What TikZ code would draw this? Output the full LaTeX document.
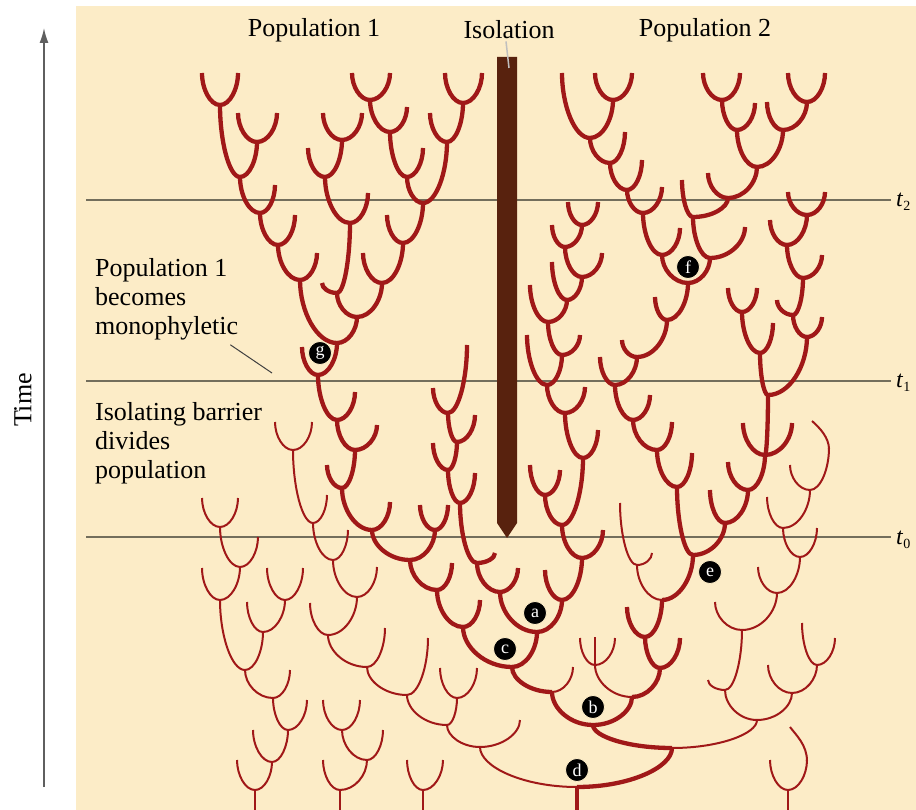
\documentclass[tikz,border=0pt]{standalone}
\usepackage{fontspec}
\setmainfont{Liberation Serif}
\usetikzlibrary{arrows.meta}
\definecolor{bgcream}{RGB}{252,236,199}
\definecolor{treered}{RGB}{160,24,24}
\definecolor{linegray}{RGB}{115,110,92}
\definecolor{barrierbrown}{RGB}{88,34,14}
\definecolor{axisgray}{RGB}{95,95,95}
\newcommand\forkU[7][thk]{%
 \pgfmathsetmacro\fqa{#2+0.55*(#4-#2)}%
 \pgfmathsetmacro\fqb{#5+0.5*(#3-#5)}%
 \pgfmathsetmacro\fqc{#2+0.55*(#6-#2)}%
 \pgfmathsetmacro\fqd{#7+0.5*(#3-#7)}%
 \draw[#1] (#4,#5) .. controls (#4,\fqb) and (\fqa,#3) .. (#2,#3) .. controls (\fqc,#3) and (#6,\fqd) .. (#6,#7);}
\newcommand\armA[5][thk]{%
 \pgfmathsetmacro\fqa{#2+0.55*(#4-#2)}%
 \pgfmathsetmacro\fqb{#5+0.5*(#3-#5)}%
 \draw[#1] (#2,#3) .. controls (\fqa,#3) and (#4,\fqb) .. (#4,#5);}
\begin{document}
\begin{tikzpicture}[x=1pt,y=-1pt,
  thk/.style={draw=treered,line width=4.3pt},
  thn/.style={draw=treered,line width=2pt},
  timeline/.style={draw=linegray,line width=2pt},
  txt/.style={font=\fontsize{26}{29}\selectfont,inner sep=0pt},
  tlab/.style={font=\fontsize{24}{24}\selectfont,inner sep=0pt,anchor=base west},
  lbl/.style={circle,fill=black,draw=bgcream,line width=0.8pt,text=white,inner sep=0pt,minimum size=23pt,font=\fontsize{18}{18}\selectfont}]
\useasboundingbox (0,0) rectangle (916,810);
\begin{scope}
\clip (0,0) rectangle (916,810);
\fill[white] (0,0) rectangle (916,810);
\fill[bgcream] (76,6) rectangle (916,810);
% time axis
\draw[draw=axisgray,line width=1.6pt,-{Latex[length=15pt,width=9pt]}] (44,787) -- (44,28);
\node[txt,rotate=90] (time) at (23,400) {Time};
% time lines
\draw[timeline] (86,200) -- (891,200);
\draw[timeline] (86,381) -- (891,381);
\draw[timeline] (86,537) -- (891,537);
\node[tlab] (t2) at (896,207) {\textit{t}{\fontsize{14}{14}\selectfont\raisebox{-4pt}{2}}};
\node[tlab] (t1) at (896,388) {\textit{t}{\fontsize{14}{14}\selectfont\raisebox{-4pt}{1}}};
\node[tlab] (t0) at (896,544) {\textit{t}{\fontsize{14}{14}\selectfont\raisebox{-4pt}{0}}};
% headings
\node[txt] (pop1) at (314,30) {Population 1};
\node[txt] (iso) at (509,30) {Isolation};
\node[txt] (pop2) at (705,30) {Population 2};
% left labels
\node[txt,anchor=base west] (m1) at (95,277) {Population 1};
\node[txt,anchor=base west] (m2) at (95,306) {becomes};
\node[txt,anchor=base west] (m3) at (95,335) {monophyletic};
\node[txt,anchor=base west] (i1) at (95,420) {Isolating barrier};
\node[txt,anchor=base west] (i2) at (95,449) {divides};
\node[txt,anchor=base west] (i3) at (95,478) {population};
\coordinate (ptr) at (272,373);
\draw[draw=black!75,line width=1pt] (m3.south east) ++(-8,4) -- (ptr);
% ---------- thin (extinct) lineages ----------
\forkU[thn]{293}{450}{275}{422}{312}{422}
\forkU[thn]{313}{523}{293}{450}{327}{495}
\forkU[thn]{333}{560}{313}{523}{348}{530}
\forkU[thn]{357}{597}{333}{560}{377}{567}
\forkU[thn]{328}{635}{310}{603}{357}{597}
\forkU[thn]{367}{667}{328}{635}{385}{628}
\forkU[thn]{407}{695}{367}{667}{428}{638}
\forkU[thn]{457}{698}{440}{668}{477}{668}
\forkU[thn]{447}{725}{407}{695}{457}{698}
\forkU[thn]{480}{747}{447}{725}{520}{720}
\forkU[thn]{220}{527}{202}{498}{238}{498}
\forkU[thn]{240}{567}{220}{527}{258}{537}
\forkU[thn]{220}{600}{202}{568}{240}{567}
\forkU[thn]{285}{600}{267}{568}{303}{568}
\forkU[thn]{263}{632}{247}{602}{285}{600}
\forkU[thn]{245}{670}{220}{600}{263}{632}
\forkU[thn]{273}{698}{245}{670}{290}{670}
\forkU[thn]{288}{730}{273}{698}{307}{700}
\forkU[thn]{272}{762}{253}{730}{288}{730}
\forkU[thn]{255}{790}{237}{760}{272}{762}
\forkU[thn]{342}{730}{323}{700}{360}{700}
\forkU[thn]{367}{760}{342}{730}{383}{730}
\forkU[thn]{340}{790}{323}{760}{367}{760}
\forkU[thn]{423}{790}{407}{760}{443}{760}
\draw[thn] (255,790) -- (255,811);
\draw[thn] (340,790) -- (340,811);
\draw[thn] (423,790) -- (423,811);
% right thin
\forkU[thn]{810}{490}{790}{465}{829}{448}
\draw[thn] (829,449) .. controls (829,438) and (820,428) .. (812,421);
\forkU[thn]{783}{528}{767}{497}{810}{490}
\forkU[thn]{800}{557}{783}{528}{817}{528}
\forkU[thn]{777}{593}{758}{567}{800}{557}
\forkU[thn]{742}{630}{715}{602}{777}{593}
\forkU[thn]{725}{690}{708}{680}{742}{630}
\forkU[thn]{817}{665}{802}{623}{835}{638}
\forkU[thn]{792}{693}{768}{665}{817}{665}
\forkU[thn]{757}{720}{725}{690}{792}{693}
\forkU[thn]{788}{790}{770}{760}{807}{760}
\draw[thn] (807,761) .. controls (807,745) and (796,735) .. (790,727);
\draw[thn] (788,790) -- (788,811);
% middle thin
\forkU[thn]{637}{565}{620}{503}{652}{553}
\forkU[thn]{595}{665}{580}{638}{615}{638}
\draw[thn] (595,665) -- (595,637);
\armA[thn]{552}{692}{573}{667}
\armA[thn]{662}{600}{637}{565}
\armA[thn]{632}{697}{595}{665}
\armA[thn]{672}{748}{757}{720}
\armA[thn]{577}{787}{480}{747}
% ---------- thick lineages ----------
% population 1 top
\forkU{220}{105}{202}{73}{238}{73}
\forkU{257}{142}{238}{113}{277}{113}
\forkU{240}{177}{220}{105}{257}{142}
\forkU{260}{213}{240}{177}{275}{185}
\forkU{278}{245}{260}{213}{295}{215}
\forkU{300}{280}{278}{245}{317}{253}
\forkU{342}{140}{323}{113}{362}{113}
\forkU{325}{177}{308}{148}{342}{140}
\forkU{350}{223}{325}{177}{368}{193}
\forkU{337}{293}{322}{283}{350}{223}
\forkU{370}{100}{352}{73}{390}{73}
\forkU{463}{103}{445}{73}{482}{73}
\forkU{390}{132}{370}{100}{407}{107}
\forkU{447}{142}{430}{113}{463}{103}
\forkU{407}{177}{390}{132}{423}{148}
\forkU{423}{203}{407}{177}{447}{142}
\forkU{403}{243}{387}{215}{423}{203}
\forkU{382}{283}{363}{253}{403}{243}
\forkU{357}{317}{337}{293}{382}{283}
\forkU{337}{343}{300}{280}{357}{317}
\forkU{318}{375}{302}{347}{337}{343}
% population 1 below t1
\forkU{337}{420}{318}{375}{355}{392}
\forkU{355}{450}{337}{420}{377}{425}
\forkU{342}{488}{327}{465}{355}{450}
\forkU{372}{530}{342}{488}{390}{502}
\forkU{435}{530}{420}{505}{448}{505}
\forkU{410}{560}{372}{530}{435}{530}
\forkU{437}{590}{410}{560}{452}{563}
\forkU{463}{627}{437}{590}{480}{600}
% chain left of barrier
\forkU{448}{413}{433}{388}{467}{345}
\forkU{457}{442}{448}{413}{475}{415}
\forkU{448}{470}{433}{443}{457}{442}
\forkU{460}{503}{448}{470}{475}{473}
\forkU{477}{563}{460}{503}{495}{553}
\forkU{500}{592}{477}{563}{518}{568}
% chain right of barrier
\forkU{582}{225}{568}{202}{598}{202}
\forkU{565}{247}{552}{225}{582}{225}
\forkU{582}{277}{565}{247}{602}{253}
\forkU{567}{300}{552}{262}{582}{277}
\forkU{548}{322}{530}{285}{567}{300}
\forkU{562}{355}{548}{322}{580}{335}
\forkU{547}{385}{527}{335}{562}{355}
\forkU{565}{413}{547}{385}{585}{387}
\forkU{583}{458}{565}{413}{598}{430}
\forkU{545}{495}{530}{465}{560}{470}
\forkU{562}{525}{545}{495}{583}{458}
\forkU{582}{558}{562}{525}{603}{530}
\forkU{562}{600}{545}{570}{582}{558}
\forkU{537}{632}{500}{592}{562}{600}
\forkU{512}{667}{463}{627}{537}{632}
\armA{552}{692}{512}{667}
\forkU{593}{725}{552}{692}{632}{697}
% population 2
\forkU{613}{100}{595}{73}{632}{73}
\forkU{590}{138}{562}{73}{613}{100}
\forkU{610}{163}{590}{138}{625}{132}
\forkU{627}{190}{610}{163}{642}{160}
\forkU{643}{213}{627}{190}{662}{187}
\forkU{662}{255}{643}{213}{680}{228}
\forkU{722}{100}{703}{73}{740}{73}
\forkU{807}{102}{788}{73}{825}{73}
\forkU{737}{130}{722}{100}{755}{103}
\forkU{783}{130}{767}{102}{807}{102}
\forkU{757}{167}{737}{130}{783}{130}
\forkU{728}{198}{708}{173}{757}{167}
\forkU{693}{217}{682}{180}{728}{198}
\forkU{710}{258}{693}{217}{745}{227}
\forkU{688}{283}{662}{255}{710}{258}
\forkU{667}{320}{655}{297}{688}{283}
\forkU{637}{357}{622}{340}{667}{320}
\forkU{615}{385}{600}{357}{637}{357}
\forkU{633}{420}{615}{385}{650}{395}
\forkU{657}{450}{633}{420}{672}{422}
\forkU{677}{487}{657}{450}{692}{453}
\forkU{807}{215}{788}{192}{825}{192}
\forkU{787}{245}{770}{220}{807}{215}
\forkU{803}{278}{787}{245}{822}{255}
\forkU{793}{315}{777}{300}{803}{278}
\forkU{807}{337}{793}{315}{822}{317}
\forkU{742}{312}{728}{288}{757}{288}
\forkU{760}{353}{742}{312}{773}{323}
\forkU{768}{395}{760}{353}{807}{337}
\forkU{765}{455}{743}{423}{792}{423}
\armA{765}{455}{768}{395}
\forkU{748}{490}{728}{462}{765}{455}
\forkU{725}{523}{710}{490}{748}{490}
\forkU{693}{555}{677}{487}{725}{523}
\armA{662}{600}{693}{555}
\forkU{645}{637}{627}{607}{662}{600}
\forkU{660}{668}{645}{637}{680}{638}
\armA{632}{697}{660}{668}
\armA{672}{748}{593}{725}
\armA{577}{787}{672}{748}
\draw[thk] (577,787) -- (577,811);
% barrier
\fill[barrierbrown] (497,57) -- (517,57) -- (517,523) -- (507,538) -- (497,523) -- cycle;
\draw[draw=black!25,line width=1.5pt] (iso.south) ++(-3,2) -- (509,68);
% labelled coalescence points
\node[lbl] (g) at (320,353) {g};
\node[lbl] (f) at (688,267) {f};
\node[lbl] (e) at (710,572) {e};
\node[lbl] (a) at (535,613) {a};
\node[lbl] (c) at (505,649) {c};
\node[lbl] (b) at (593,707) {b};
\node[lbl] (d) at (577,770) {d};
\end{scope}
\end{tikzpicture}
\end{document}
